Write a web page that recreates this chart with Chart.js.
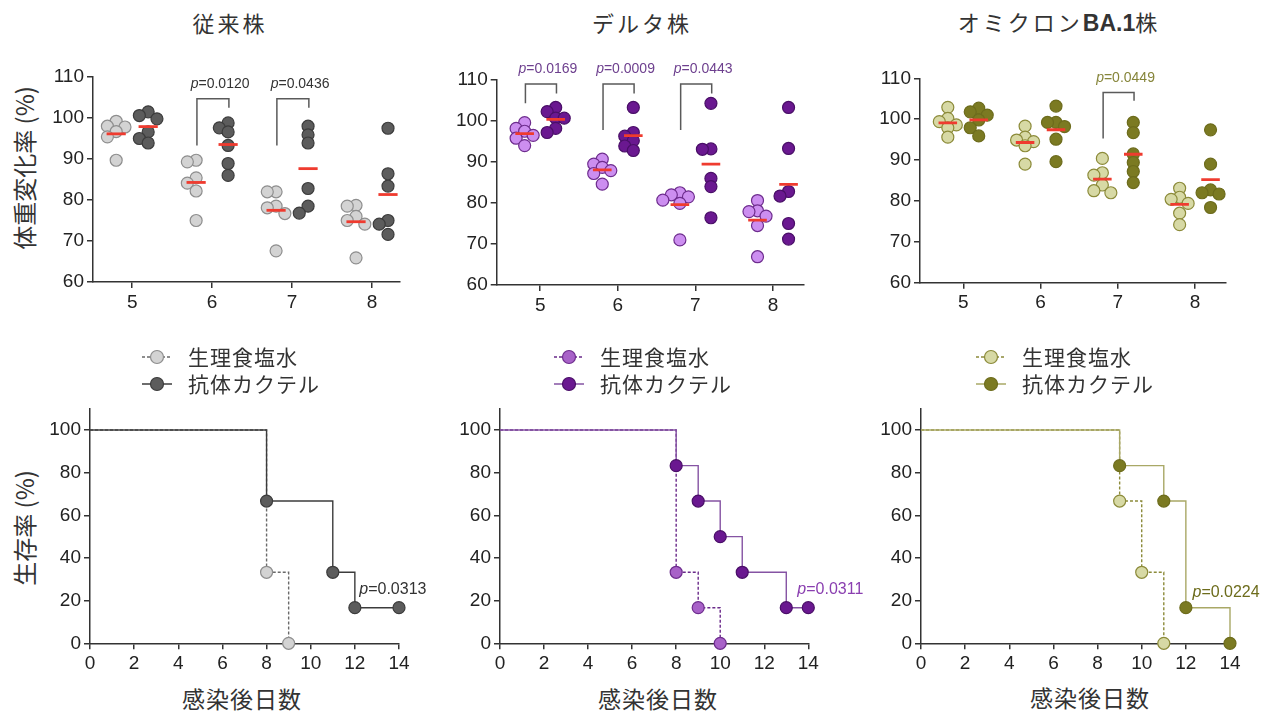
<!DOCTYPE html>
<html>
<head>
<meta charset="utf-8">
<script src="https://cdn.jsdelivr.net/npm/chart.js@4.4.1/dist/chart.umd.min.js"></script>
<style>
    body { margin: 0; background: #fff; width: 1283px; height: 716px; position: relative; overflow: hidden;
           font-family: "Noto Sans CJK JP", "Noto Sans", sans-serif; color: #333; }
    canvas { position: absolute; }
    .lbl { position: absolute; white-space: nowrap; transform: translate(-50%, -50%); line-height: 1; }
    .panel-title { font-size: 22px; letter-spacing: 3px; }
    .panel-title b { font-family: "Liberation Sans", Arial, sans-serif; letter-spacing: 0; font-size: 23px; }
    .ytitle { font-size: 24px; transform: translate(-50%, -50%) rotate(-90deg); }
    .xtitle { font-size: 23px; letter-spacing: 1px; }
</style>
</head>
<body>

<div class="lbl panel-title" style="left:230px;top:22px">従来株</div>
<div class="lbl panel-title" style="left:642px;top:22px">デルタ株</div>
<div class="lbl panel-title" style="left:1059px;top:22px">オミクロン<b>BA.1</b>株</div>

<div class="lbl ytitle" style="left:24px;top:168px">体重変化率 (%)</div>
<div class="lbl ytitle" style="left:24px;top:528px">生存率 (%)</div>

<div class="lbl xtitle" style="left:242px;top:698px">感染後日数</div>
<div class="lbl xtitle" style="left:658px;top:698px">感染後日数</div>
<div class="lbl xtitle" style="left:1090px;top:697px">感染後日数</div>

<canvas id="wtWeight" width="425" height="280" style="left:0;top:40px"></canvas>
<canvas id="deltaWeight" width="430" height="280" style="left:430px;top:40px"></canvas>
<canvas id="ba1Weight" width="433" height="280" style="left:850px;top:40px"></canvas>
<canvas id="wtSurv" width="440" height="376" style="left:0;top:340px"></canvas>
<canvas id="deltaSurv" width="440" height="376" style="left:430px;top:340px"></canvas>
<canvas id="ba1Surv" width="433" height="376" style="left:850px;top:340px"></canvas>

<script>
// Days post infection shown in the weight panels
const days = [5, 6, 7, 8];
const weightTicks = [60, 70, 80, 90, 100, 110];
const survTicks = [0, 20, 40, 60, 80, 100];
const survDayTicks = [0, 2, 4, 6, 8, 10, 12, 14];
const groupNames = ['生理食塩水', '抗体カクテル'];

// Body weight change (%), six mice per group, one row per day
const wtSaline = [
    [99.2, 98.0, 97.8, 96.7, 95.4, 89.7],
    [89.7, 89.3, 85.4, 84.1, 82.2, 75.0],
    [82.0, 82.0, 78.5, 78.1, 76.7, 67.6],
    [78.7, 78.5, 76.0, 75.0, 74.1, 65.9]
];
const wtCocktail = [
    [101.5, 100.6, 99.8, 96.6, 95.0, 93.9],
    [98.8, 97.6, 96.6, 93.3, 88.9, 86.0],
    [98.0, 95.9, 93.9, 82.8, 78.5, 76.8],
    [97.5, 86.4, 83.4, 75.0, 74.1, 71.6]
];
const deltaSaline = [
    [99.6, 98.2, 97.5, 96.5, 95.8, 94.0],
    [90.7, 89.5, 88.7, 87.9, 87.2, 84.6],
    [82.5, 82.0, 81.5, 80.7, 79.9, 71.0],
    [80.6, 78.1, 77.9, 76.8, 74.5, 66.9]
];
const deltaCocktail = [
    [103.3, 102.3, 100.7, 100.7, 98.2, 97.2],
    [103.3, 97.2, 96.3, 95.2, 93.9, 92.8],
    [104.3, 93.2, 93.1, 86.0, 84.0, 76.4],
    [103.3, 93.3, 82.8, 81.7, 75.0, 71.2]
];
const ba1Saline = [
    [102.9, 100.2, 99.4, 98.6, 97.9, 95.6],
    [98.3, 95.6, 94.9, 94.5, 93.5, 89.0],
    [90.4, 86.9, 86.3, 83.9, 82.5, 82.0],
    [83.1, 80.9, 80.4, 79.4, 77.0, 74.2]
];
const ba1Cocktail = [
    [102.7, 101.8, 101.0, 99.8, 97.9, 95.9],
    [103.2, 99.2, 99.2, 98.2, 95.1, 89.6],
    [99.2, 96.7, 91.5, 89.4, 87.2, 84.5],
    [97.4, 89.0, 82.7, 82.0, 81.7, 78.4]
];

// Significance brackets: day, p value, left leg end, right leg end, bar level
const wtBrackets = [[6, '0.0120', 93.3, 102.5, 104.7], [7, '0.0436', 93.3, 102.5, 104.7]];
const deltaBrackets = [[5, '0.0169', 104.3, 106.7, 109.0], [6, '0.0009', 97.8, 106.7, 109.0], [7, '0.0443', 97.8, 106.7, 109.0]];
const ba1Brackets = [[7, '0.0449', 95.3, 104.5, 106.5]];

// Survival (%) – Kaplan-Meier steps
const wtSurvSalineDay = [0, 8, 9];
const wtSurvSalinePct = [100, 33.3, 0];
const wtSurvCocktailDay = [0, 8, 11, 12, 14];
const wtSurvCocktailPct = [100, 66.7, 33.3, 16.7, 16.7];
const deltaSurvSalineDay = [0, 8, 9, 10];
const deltaSurvSalinePct = [100, 33.3, 16.7, 0];
const deltaSurvCocktailDay = [0, 8, 9, 10, 11, 13, 14];
const deltaSurvCocktailPct = [100, 83.3, 66.7, 50, 33.3, 16.7, 16.7];
const ba1SurvSalineDay = [0, 9, 10, 11];
const ba1SurvSalinePct = [100, 66.7, 33.3, 0];
const ba1SurvCocktailDay = [0, 9, 11, 12, 14];
const ba1SurvCocktailPct = [100, 83.3, 66.7, 16.7, 0];

// Log-rank p values: text, anchor day, anchor %
const wtSurvP = ['0.0313', 12.2, 25];
const deltaSurvP = ['0.0311', 13.5, 25];
const ba1SurvP = ['0.0224', 12.3, 23.6];

const NUM_FONT = '"Liberation Sans", Arial, sans-serif';
const CJK_FONT = '"Noto Sans CJK JP", "Noto Sans", sans-serif';

const colors = {
    wt: { saline: '#d3d3d3', salineEdge: '#8e8e8e', cocktail: '#5c5c5c', cocktailEdge: '#3c3c3c',
          text: '#333333', survSaline: '#d3d3d3', survSalineEdge: '#8e8e8e',
          lineSaline: '#6a6a6a', lineCocktail: '#3c3c3c' },
    delta: { saline: '#cc8ef0', salineEdge: '#6e2d8e', cocktail: '#6a1890', cocktailEdge: '#4a0f68',
             text: '#6d3f8e', survSaline: '#a862c8', survSalineEdge: '#6e2d8e',
             lineSaline: '#6a2a8a', lineCocktail: '#8553a3', pText: '#8a3fb0' },
    ba1: { saline: '#d7d9a5', salineEdge: '#8c8b3a', cocktail: '#7b7a22', cocktailEdge: '#6d6c1c',
           text: '#86853a', survSaline: '#d7d9a5', survSalineEdge: '#8c8b3a',
           lineSaline: '#8c8b3a', lineCocktail: '#a9a866', pText: '#6d6c1c' }
};

// spread dots that would sit on top of each other, roughly like a beeswarm
function swarm(vals, center) {
    const pxX = 79, pxY = 4.1, step = 0.11;
    const placed = [];
    const out = [];
    const order = vals.map((v, i) => i).sort((a, b) => vals[b] - vals[a]);
    order.forEach(i => {
        const py = vals[i] * pxY;
        for (let k = 0; k < 20; k++) {
            const off = k === 0 ? 0 : (k % 2 ? -1 : 1) * Math.ceil(k / 2) * step;
            const px = (center + off) * pxX;
            if (placed.every(p => Math.hypot(p[0] - px, p[1] - py) >= 8)) {
                placed.push([px, py]);
                out[i] = center + off;
                break;
            }
        }
    });
    return vals.map((v, i) => ({ x: out[i], y: v }));
}

function mean(a) {
    return a.reduce((s, v) => s + v, 0) / a.length;
}

function drawP(ctx, value, px, py, size, color, align) {
    const it = 'italic ' + size + 'px ' + NUM_FONT;
    const up = size + 'px ' + NUM_FONT;
    ctx.fillStyle = color;
    ctx.textBaseline = 'middle';
    ctx.textAlign = 'left';
    ctx.font = it;
    const w1 = ctx.measureText('p').width;
    ctx.font = up;
    const w2 = ctx.measureText('=' + value).width;
    const x0 = align === 'center' ? px - (w1 + w2) / 2 : px;
    ctx.font = it;
    ctx.fillText('p', x0, py);
    ctx.font = up;
    ctx.fillText('=' + value, x0 + w1, py);
}

// Significance brackets above the weight columns
const bracketPlugin = {
    id: 'brackets',
    afterDatasetsDraw(chart, args, opts) {
        if (!opts.items) return;
        const { ctx, scales: { x, y } } = chart;
        ctx.save();
        ctx.strokeStyle = '#5a5a5a';
        ctx.lineWidth = 1.5;
        opts.items.forEach(([day, p, lo, hi, top]) => {
            const xl = x.getPixelForValue(day - 0.19);
            const xr = x.getPixelForValue(day + 0.21);
            ctx.beginPath();
            ctx.moveTo(xl, y.getPixelForValue(lo));
            ctx.lineTo(xl, y.getPixelForValue(top));
            ctx.lineTo(xr, y.getPixelForValue(top));
            ctx.lineTo(xr, y.getPixelForValue(hi));
            ctx.stroke();
            drawP(ctx, p, x.getPixelForValue(day + 0.1), y.getPixelForValue(top + 3.6), 14, opts.color, 'center');
        });
        ctx.restore();
    }
};

// Log-rank p value next to the survival curves
const survPPlugin = {
    id: 'survP',
    afterDatasetsDraw(chart, args, opts) {
        if (!opts.item) return;
        const { ctx, scales: { x, y } } = chart;
        const [p, day, pct] = opts.item;
        ctx.save();
        drawP(ctx, p, x.getPixelForValue(day), y.getPixelForValue(pct), 16, opts.color, 'left');
        ctx.restore();
    }
};

// Legend above each survival chart: line + circle marker, then the label
const kmLegend = {
    id: 'kmLegend',
    afterDraw(chart, args, opts) {
        const ctx = chart.ctx;
        ctx.save();
        chart.data.datasets.forEach((ds, i) => {
            const cy = opts.y + i * opts.gap;
            ctx.strokeStyle = ds.borderColor;
            ctx.lineWidth = 1.5;
            ctx.setLineDash(ds.borderDash || []);
            ctx.beginPath();
            ctx.moveTo(opts.x - 15, cy);
            ctx.lineTo(opts.x + 15, cy);
            ctx.stroke();
            ctx.setLineDash([]);
            ctx.beginPath();
            ctx.arc(opts.x, cy, 6.5, 0, Math.PI * 2);
            ctx.fillStyle = ds.pointBackgroundColor;
            ctx.fill();
            ctx.strokeStyle = ds.pointBorderColor;
            ctx.lineWidth = 1.2;
            ctx.stroke();
            ctx.fillStyle = '#333';
            ctx.font = '21px ' + CJK_FONT;
            ctx.letterSpacing = '1px';
            ctx.textAlign = 'left';
            ctx.textBaseline = 'middle';
            ctx.fillText(ds.label, opts.x + 31, cy);
        });
        ctx.restore();
    }
};

function axis(size, extra) {
    return Object.assign({
        grid: { display: true, drawOnChartArea: false, drawTicks: true, tickLength: 6, color: '#333', lineWidth: 1.5 },
        border: { display: true, color: '#333', width: 1.5 },
        ticks: { color: '#222', font: { family: NUM_FONT, size: size }, padding: 3, maxRotation: 0 }
    }, extra);
}

// Weight panel; box = chart area placement inside the canvas
function weightChart(id, saline, cocktail, col, brackets, box) {
    const meanSets = [];
    days.forEach((d, i) => {
        [[saline[i], d - 0.2], [cocktail[i], d + 0.2]].forEach(([vals, c]) => {
            const m = mean(vals);
            meanSets.push({
                data: [{ x: c - 0.12, y: m }, { x: c + 0.12, y: m }],
                showLine: true,
                borderColor: '#ef3b2f',
                borderWidth: 2.8,
                pointRadius: 0
            });
        });
    });
    const dots = (groups, shift, fill, edge) => ({
        data: days.flatMap((d, i) => swarm(groups[i], d + shift)),
        pointRadius: 6,
        pointBackgroundColor: fill,
        pointBorderColor: edge,
        pointBorderWidth: 1.2
    });

    new Chart(document.getElementById(id), {
        type: 'scatter',
        data: {
            datasets: [
                ...meanSets,
                dots(saline, -0.2, col.saline, col.salineEdge),
                dots(cocktail, 0.2, col.cocktail, col.cocktailEdge)
            ]
        },
        options: {
            responsive: false,
            animation: false,
            events: [],
            layout: { padding: { left: 0, top: box.top, right: box.right, bottom: 0 } },
            plugins: {
                legend: { display: false },
                tooltip: { enabled: false },
                brackets: { items: brackets, color: col.text }
            },
            scales: {
                x: axis(19, {
                    type: 'linear', min: box.xmin, max: box.xmax,
                    afterBuildTicks: s => { s.ticks = days.map(v => ({ value: v })); },
                    afterFit: s => { s.height = box.xh; }
                }),
                y: axis(19, {
                    min: 60, max: 110,
                    afterBuildTicks: s => { s.ticks = weightTicks.map(v => ({ value: v })); },
                    afterFit: s => { s.width = box.yw; }
                })
            }
        },
        plugins: [bracketPlugin]
    });
}

function survChart(id, sDay, sPct, cDay, cPct, col, pItem, box) {
    const radius = ctx => ctx.dataIndex === 0 ? 0 : 6;
    new Chart(document.getElementById(id), {
        type: 'line',
        data: {
            datasets: [
                {
                    label: groupNames[0],
                    data: sDay.map((d, i) => ({ x: d, y: sPct[i] })),
                    stepped: 'before',
                    borderColor: col.lineSaline,
                    borderDash: [3, 2],
                    borderWidth: 1.4,
                    pointRadius: radius,
                    pointBackgroundColor: col.survSaline,
                    pointBorderColor: col.survSalineEdge,
                    pointBorderWidth: 1.2,
                    order: 2
                },
                {
                    label: groupNames[1],
                    data: cDay.map((d, i) => ({ x: d, y: cPct[i] })),
                    stepped: 'before',
                    borderColor: col.lineCocktail,
                    borderWidth: 1.4,
                    pointRadius: radius,
                    pointBackgroundColor: col.cocktail,
                    pointBorderColor: col.cocktailEdge,
                    pointBorderWidth: 1.2,
                    order: 1
                }
            ]
        },
        options: {
            responsive: false,
            animation: false,
            events: [],
            clip: false,
            layout: { padding: { left: 0, top: box.top, right: box.right, bottom: 0 } },
            plugins: {
                legend: { display: false },
                tooltip: { enabled: false },
                survP: { item: pItem, color: col.pText || col.text },
                kmLegend: { x: box.legX, y: 17, gap: 27 }
            },
            scales: {
                x: axis(19, {
                    type: 'linear', min: 0, max: 14,
                    afterBuildTicks: s => { s.ticks = survDayTicks.map(v => ({ value: v })); },
                    afterFit: s => { s.height = box.xh; }
                }),
                y: axis(19, {
                    min: 0, max: 110,
                    afterBuildTicks: s => { s.ticks = survTicks.map(v => ({ value: v })); },
                    afterFit: s => { s.width = box.yw; }
                })
            }
        },
        plugins: [survPPlugin, kmLegend]
    });
}

weightChart('wtWeight', wtSaline, wtCocktail, colors.wt, wtBrackets,
    { top: 37, right: 25, yw: 93, xh: 38, xmin: 4.51, xmax: 8.35 });
weightChart('deltaWeight', deltaSaline, deltaCocktail, colors.delta, deltaBrackets,
    { top: 40, right: 56.7, yw: 66.7, xh: 35, xmin: 4.44, xmax: 8.39 });
weightChart('ba1Weight', ba1Saline, ba1Cocktail, colors.ba1, ba1Brackets,
    { top: 38.3, right: 57, yw: 70, xh: 37.3, xmin: 4.44, xmax: 8.4 });

survChart('wtSurv', wtSurvSalineDay, wtSurvSalinePct, wtSurvCocktailDay, wtSurvCocktailPct, colors.wt, wtSurvP,
    { top: 68.7, right: 41, yw: 90, xh: 72.7, legX: 157 });
survChart('deltaSurv', deltaSurvSalineDay, deltaSurvSalinePct, deltaSurvCocktailDay, deltaSurvCocktailPct, colors.delta, deltaSurvP,
    { top: 68.7, right: 61.7, yw: 70, xh: 72.7, legX: 139 });
survChart('ba1Surv', ba1SurvSalineDay, ba1SurvSalinePct, ba1SurvCocktailDay, ba1SurvCocktailPct, colors.ba1, ba1SurvP,
    { top: 68.7, right: 53, yw: 71, xh: 72.7, legX: 141 });
</script>
</body>
</html>
